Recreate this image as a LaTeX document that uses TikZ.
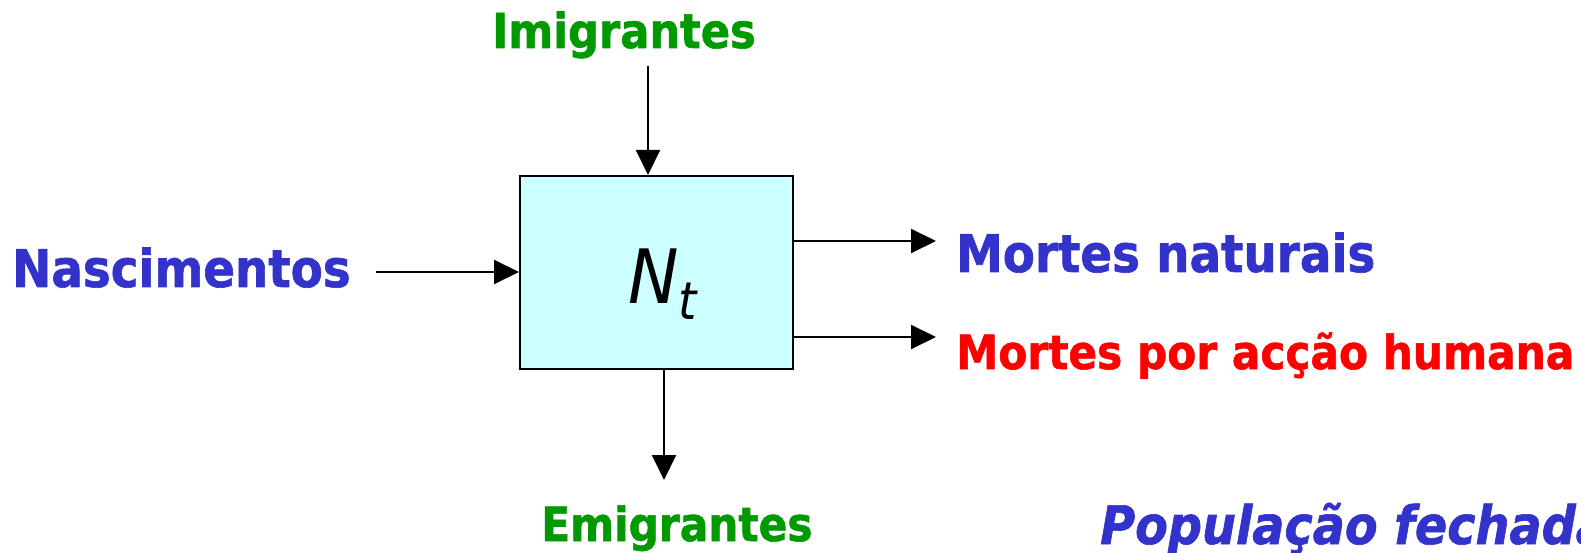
\documentclass[tikz,border=0pt]{standalone}
\usepackage{fontspec}
\usetikzlibrary{arrows.meta}
\newfontfamily\labfont{DejaVu Sans Condensed}[BoldFeatures={FakeBold=1.2},BoldItalicFeatures={FakeBold=1.2}]
\newfontfamily\ntfont{DejaVu Sans Condensed}
\definecolor{cblue}{HTML}{3333CC}
\definecolor{cgreen}{HTML}{009900}
\definecolor{cred}{HTML}{FF0000}
\definecolor{cbox}{HTML}{CCFFFF}
\begin{document}
\begin{tikzpicture}[x=1pt,y=-1pt,
  lab/.style={inner sep=0pt,anchor=base west,font=\labfont\bfseries},
  arr/.style={line width=2pt,-{Triangle[length=25pt,width=24pt]}},
  stockbox/.style={draw=black,line width=2pt,fill=cbox,minimum width=273pt,minimum height=193pt,inner sep=0pt}]
\useasboundingbox (0,0) rectangle (1581,553);
\clip (0,0) rectangle (1581,553);
\node[stockbox] (box) at (656.5,272.5) {};
\node[inner sep=0pt,anchor=base west] (nt) at (628,303) {\ntfont\itshape\fontsize{75}{75}\selectfont N\raisebox{-0.22em}{\fontsize{52}{52}\selectfont t}};
\node[lab,text=cgreen,font=\labfont\bfseries\fontsize{48}{48}\selectfont] (imi) at (492,48) {Imigrantes};
\node[lab,text=cblue,font=\labfont\bfseries\fontsize{52}{52}\selectfont] (nas) at (12,287) {Nascimentos};
\node[lab,text=cblue,font=\labfont\bfseries\fontsize{52}{52}\selectfont] (mn) at (956,272) {Mortes naturais};
\node[lab,text=cred,font=\labfont\bfseries\fontsize{47}{47}\selectfont] (mh) at (956,369) {Mortes por acção humana};
\node[lab,text=cgreen,font=\labfont\bfseries\fontsize{47}{47}\selectfont] (emi) at (541,541) {Emigrantes};
\node[lab,text=cblue,font=\labfont\bfseries\itshape\fontsize{53}{53}\selectfont] (pf) at (1100,544) {População fechada};
\coordinate (iS) at (648,66);
\coordinate (nS) at (376,272);
\coordinate (mnE) at (936,241);
\coordinate (mhE) at (936,337);
\coordinate (eE) at (664,480);
\draw[arr] (iS) -- (iS |- box.north);
\draw[arr] (nS) -- (nS -| box.west);
\draw[arr] (mnE -| box.east) -- (mnE);
\draw[arr] (mhE -| box.east) -- (mhE);
\draw[arr] (eE |- box.south) -- (eE);
\end{tikzpicture}
\end{document}
